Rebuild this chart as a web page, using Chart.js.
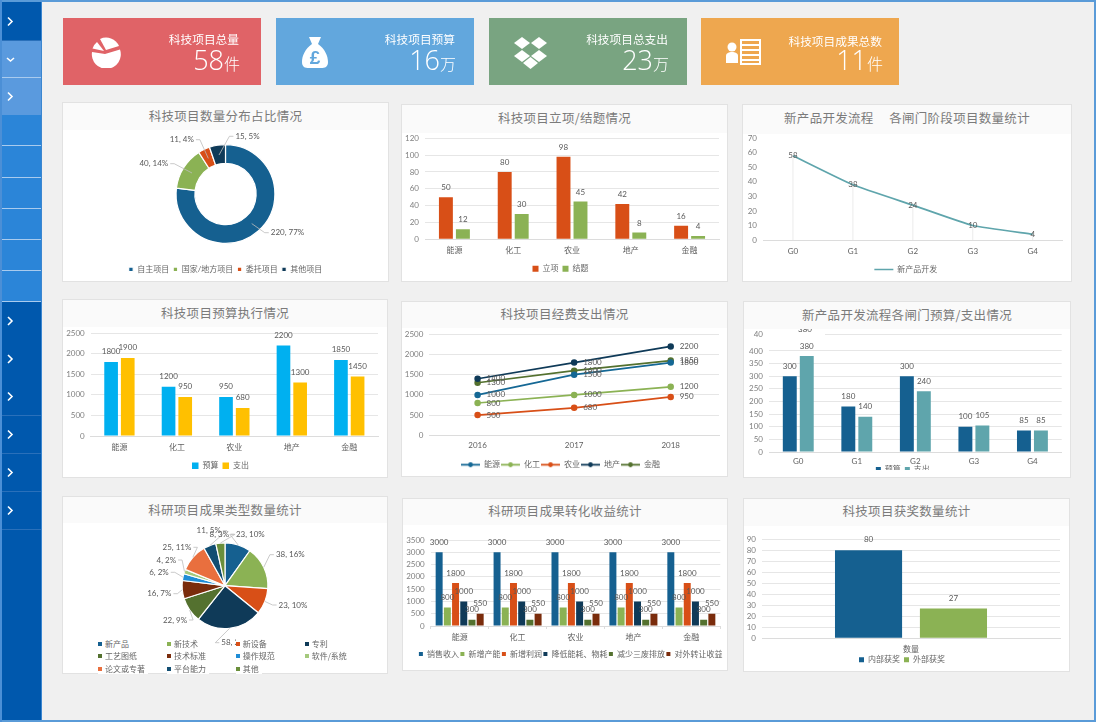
<!DOCTYPE html>
<html>
<head>
<meta charset="utf-8">
<title>科技项目统计</title>
<script src="https://cdn.jsdelivr.net/npm/chart.js@4/dist/chart.umd.js"></script>
<style>
html, body { margin: 0; padding: 0; background: #f0f0f0; overflow: hidden; }
#page { position: relative; width: 1096px; height: 722px; overflow: hidden; font-family: "Noto Sans CJK SC", sans-serif; filter: blur(0.3px); }
#page div, #page canvas, #page svg { position: absolute; }
.card { color: #fff; }
.card-title { font-size: 11.7px; text-align: right; line-height: 14px; white-space: nowrap; }
.card-num { text-align: right; white-space: nowrap; font-size: 27px; line-height: 32px; font-family: "Open Sans", sans-serif; font-weight: 300; }
.card-num span { font-size: 16px; font-family: "Noto Sans CJK SC", sans-serif; font-weight: 300; }
.panel { background: #fff; border: 1px solid #e2e2e2; box-sizing: border-box; }
.panel-head { background: #fafafa; left: 0; top: 0; right: 0; color: #7b7b7b; font-size: 12.5px; letter-spacing: .3px; text-align: center; white-space: pre; }
.legend-item { background: #fff; font-size: 8px; line-height: 11px; color: #666; white-space: nowrap; padding-left: 7px; padding-right: 3px; }
.legend-item i { position: absolute; left: 0; top: 4px; width: 4px; height: 4px; }
</style>
</head>
<body>
<div id="page"></div>
<script>
// 数量分布
const shareNames = ['自主项目', '国家/地方项目', '委托项目', '其他项目'];
const shareValues = [220, 40, 11, 15];
const sharePercents = [77, 14, 4, 5];
// 立项 / 结题
const fieldNames = ['能源', '化工', '农业', '地产', '金融'];
const setupValues = [50, 80, 98, 42, 16];
const closedValues = [12, 30, 45, 8, 4];
// 新产品开发
const stageNames = ['G0', 'G1', 'G2', 'G3', 'G4'];
const stageCounts = [58, 38, 24, 10, 4];
// 预算执行
const budgetValues = [1800, 1200, 950, 2200, 1850];
const spendValues = [1900, 950, 680, 1300, 1450];
// 经费支出
const years = ['2016', '2017', '2018'];
const energySpend = [1000, 1500, 1800];
const chemSpend = [800, 1000, 1200];
const farmSpend = [500, 680, 950];
const estateSpend = [1400, 1800, 2200];
const financeSpend = [1300, 1600, 1850];
// 各闸门预算 / 支出
const stageBudget = [300, 180, 300, 100, 85];
const stageSpend = [380, 140, 240, 105, 85];
const stageTicks = [0, 50, 100, 150, 200, 250, 300, 350, 400, 467];
// 成果类型
const resultNames = ['新产品', '新技术', '新设备', '专利', '工艺图纸', '技术标准', '操作规范', '软件/系统', '论文或专著', '平台能力', '其他'];
const resultValues = [23, 38, 23, 58, 22, 16, 6, 4, 25, 11, 8];
const resultPercents = [10, 16, 10, 25, 9, 7, 2, 2, 11, 5, 3];
// 成果转化收益 (bar heights and the printed labels differ in the source picture)
const incomeNames = ['销售收入', '新增产能', '新增利润', '降低能耗、物耗', '减少三废排放', '对外转让收益'];
const incomeHeights = [3000, 750, 1750, 1000, 250, 500];
const incomeLabels = [3000, 800, 1800, 1000, 300, 550];
// 获奖
const awardCategory = ['数量'];
const awardInner = [80];
const awardOuter = [27];

const BLUE = '#156090', GREEN = '#8bb254', ORANGE = '#d84f17', NAVY = '#0f3a58', OLIVE = '#54712f', BROWN = '#7a2c0c', TEAL = '#5fa5ac';
const FONT = 'Lato, "Noto Sans CJK SC", sans-serif';
const page = document.getElementById('page');

Chart.defaults.font.family = FONT;
Chart.defaults.font.size = 8;
Chart.defaults.color = '#808080';
Chart.defaults.animation = false;

function addDiv(x, y, w, h, css, parent) {
    var d = document.createElement('div');
    d.style.cssText = 'left:' + x + 'px;top:' + y + 'px;width:' + w + 'px;height:' + h + 'px;' + (css || '');
    (parent || page).appendChild(d);
    return d;
}

// outer frame and side menu
addDiv(0, 0, 1096, 2, 'background:#5a9bd8');
addDiv(0, 720, 1096, 2, 'background:#5a9bd8');
addDiv(0, 0, 2, 722, 'background:#4b8fd6');
addDiv(1094, 0, 2, 722, 'background:#5a9bd8');
addDiv(2, 2, 39, 718, 'background:#0058ad;border-right:1px solid #3b86d0');
var menuRows = [
    [3, 37, '#0058ad', 'right'], [41, 36, '#5a9ade', 'down'], [78, 37, '#5a9ade', 'right'],
    [115, 30, '#2b85d8'], [146, 31, '#2b85d8'], [178, 30, '#2b85d8'], [209, 30, '#2b85d8'], [240, 30, '#2b85d8'], [271, 30, '#2b85d8'],
    [302, 38, '#0058ad', 'right'], [340, 38, '#0058ad', 'right'], [378, 37, '#0058ad', 'right'],
    [416, 37, '#0058ad', 'right'], [454, 37, '#0058ad', 'right'], [492, 37, '#0058ad', 'right']
];
menuRows.forEach(function(r) {
    var row = addDiv(2, r[0], 39, r[1], 'background:' + r[2] + ';border-bottom:1px solid ' + (r[2] == '#0058ad' ? '#2a70ba' : '#a9cbee'));
    if (r[3]) {
        var pts = r[3] == 'right' ? '6,' + (r[1] / 2 - 4) + ' 10,' + (r[1] / 2) + ' 6,' + (r[1] / 2 + 4)
                                  : '5,' + (r[1] / 2 - 1) + ' 8.5,' + (r[1] / 2 + 2) + ' 12,' + (r[1] / 2 - 1);
        row.innerHTML = '<svg width="20" height="' + r[1] + '" style="left:0;top:0"><polyline points="' + pts + '" fill="none" stroke="#fff" stroke-width="1.6"/></svg>';
    }
});

// top cards
var cards = [
    { x: 63, color: '#e06367', title: '科技项目总量', num: '58', unit: '件', right: 22, titleTop: 32,
      icon: '<svg width="30" height="31" style="left:28px;top:19px" fill="#fff"><path d="M14 17 L29 12.5 A14.5 14.5 0 1 1 1 15 Z"/><path d="M13 14 L1.5 11.5 A14 14 0 0 1 6 5 Z"/><path d="M15 13 L9 2 A14 14 0 0 1 28 9 Z"/></svg>' },
    { x: 276, color: '#62a7dd', title: '科技项目预算', num: '16', unit: '万', right: 19, titleTop: 32,
      icon: '<svg width="28" height="33" style="left:25px;top:18px"><path fill="#fff" d="M8 1 L20 1 L17 8 C24 13 27 20 27 26 C27 31 24 32 20 32 L8 32 C4 32 1 31 1 26 C1 20 4 13 11 8 Z"/><text x="14" y="28" text-anchor="middle" font-size="19" font-weight="700" font-family="Liberation Sans" fill="#62a7dd">£</text></svg>' },
    { x: 489, color: '#79a481', title: '科技项目总支出', num: '23', unit: '万', right: 19, titleTop: 32,
      icon: '<svg width="36" height="34" style="left:24px;top:19px" fill="#fff"><polygon points="9,0 17,6 9,12 1,6"/><polygon points="26,0 34,6 26,12 18,6"/><polygon points="9,13 17,19 9,25 1,19"/><polygon points="26,13 34,19 26,25 18,19"/><polygon points="17.5,20 25,26 17.5,32 10,26"/></svg>' },
    { x: 701, color: '#eea74f', title: '科技项目成果总数', num: '11', unit: '件', right: 17, titleTop: 34,
      icon: '<svg width="36" height="27" style="left:25px;top:21px" fill="#fff"><circle cx="6" cy="8" r="4.5"/><path d="M0 24 L0 17 C0 14 3 13 6 13 C9 13 12 14 12 17 L12 24 Z"/><path fill-rule="evenodd" d="M14 0 L35 0 L35 26 L14 26 Z M16 2 L16 5 L33 5 L33 2 Z M16 7 L16 10 L33 10 L33 7 Z M16 12 L16 15 L33 15 L33 12 Z M16 17 L16 20 L33 20 L33 17 Z M16 22 L16 24 L33 24 L33 22 Z"/></svg>' }
];
cards.forEach(function(c) {
    var card = addDiv(c.x, 18, 198, 67, 'background:' + c.color, page);
    card.className = 'card';
    card.innerHTML = c.icon;
    var t = addDiv(0, c.titleTop - 18, 198 - c.right, 14, '', card);
    t.className = 'card-title';
    t.textContent = c.title;
    var n = addDiv(0, 26, 198 - c.right + 1, 32, '', card);
    n.className = 'card-num';
    n.innerHTML = c.num + '<span>' + c.unit + '</span>';
});

// chart panels: x, y, right, bottom, bottom of the title band, title centre (page pixels)
var panels = {
    share:   { title: '科技项目数量分布占比情况', x: 62,  y: 102, r: 389,  b: 282, head: 130, titleY: 116.7 },
    setup:   { title: '科技项目立项/结题情况', x: 401, y: 104, r: 728,  b: 282, head: 133, titleY: 118 },
    stage:   { title: '新产品开发流程     各闸门阶段项目数量统计', x: 742, y: 104, r: 1072, b: 282, head: 134, titleY: 118.3 },
    budget:  { title: '科技项目预算执行情况', x: 62,  y: 299, r: 388,  b: 478, head: 327, titleY: 313.3 },
    spend:   { title: '科技项目经费支出情况', x: 401, y: 301, r: 728,  b: 477, head: 328, titleY: 314.3 },
    gate:    { title: '新产品开发流程各闸门预算/支出情况', x: 743, y: 301, r: 1071, b: 478, head: 329, titleY: 315 },
    result:  { title: '科研项目成果类型数量统计', x: 62,  y: 496, r: 388,  b: 674, head: 523, titleY: 510 },
    income:  { title: '科研项目成果转化收益统计', x: 402, y: 498, r: 728,  b: 671, head: 525, titleY: 511.3 },
    award:   { title: '科技项目获奖数量统计', x: 743, y: 498, r: 1070, b: 672, head: 526, titleY: 511 }
};
// canvases run a bit past the white body, otherwise chart.js pushes the plot in for the edge tick labels
Object.keys(panels).forEach(function(id) {
    var p = panels[id];
    p.canvasTop = p.head - 10;
    p.canvasH = p.b + 12 - p.canvasTop;
    var el = addDiv(p.x, p.y, p.r - p.x, p.b - p.y);
    el.className = 'panel';
    var h = addDiv(0, 0, p.r - p.x - 2, p.head - p.y - 1, 'line-height:' + (2 * (p.titleY - p.y - 1.5)) + 'px', el);
    h.className = 'panel-head';
    h.textContent = p.title;
    var c = document.createElement('canvas');
    c.id = id;
    c.width = p.r - p.x - 2;
    c.height = p.canvasH;
    c.style.left = (p.x + 1) + 'px';
    c.style.top = p.canvasTop + 'px';
    page.appendChild(c);
});

// value labels over bars / beside line points
Chart.register({
    id: 'valueLabels',
    afterDatasetsDraw: function(chart, args, opts) {
        if (!opts.place) return;
        var ctx = chart.ctx;
        ctx.save();
        ctx.font = (opts.size || 8) + 'px ' + FONT;
        ctx.fillStyle = opts.color || '#595959';
        ctx.textBaseline = 'middle';
        chart.data.datasets.forEach(function(ds, i) {
            chart.getDatasetMeta(i).data.forEach(function(pt, j) {
                var text = ds.printed ? ds.printed[j] : ds.data[j];
                if (opts.place == 'right') {
                    ctx.textAlign = 'left';
                    ctx.fillText(text, pt.x + 9, pt.y);
                } else if (opts.place == 'center') {
                    ctx.textAlign = 'center';
                    ctx.fillText(text, pt.x, pt.y);
                } else {
                    ctx.textAlign = 'center';
                    ctx.fillText(text, pt.x, pt.y - (opts.lift || 10.5));
                }
            });
        });
        ctx.restore();
    }
});

// "value, percent" labels with leader lines round a pie
Chart.register({
    id: 'sliceLabels',
    afterDatasetsDraw: function(chart, args, opts) {
        if (!opts.spots) return;
        var ctx = chart.ctx, ds = chart.data.datasets[0];
        ctx.save();
        ctx.font = '8px ' + FONT;
        ctx.textBaseline = 'middle';
        chart.getDatasetMeta(0).data.forEach(function(arc, i) {
            var mid = (arc.startAngle + arc.endAngle) / 2;
            var text = ds.data[i] + ', ' + opts.percents[i] + '%';
            var half = ctx.measureText(text).width / 2;
            var lx = arc.x + opts.spots[i][0], ly = arc.y + opts.spots[i][1];
            var ax = arc.x + Math.cos(mid) * arc.outerRadius * opts.anchor;
            var ay = arc.y + Math.sin(mid) * arc.outerRadius * opts.anchor;
            var edge = lx > ax ? lx - half - 2 : lx + half + 2;
            if (Math.hypot(edge - ax, ly - ay) > 9) {
                ctx.strokeStyle = '#bdbdbd';
                ctx.lineWidth = 0.8;
                ctx.beginPath();
                ctx.moveTo(ax, ay);
                ctx.lineTo(edge + (lx > ax ? -4 : 4), ly);
                ctx.lineTo(edge, ly);
                ctx.stroke();
            }
            ctx.fillStyle = '#595959';
            ctx.textAlign = 'center';
            ctx.fillText(text, lx, ly);
        });
        ctx.restore();
    }
});

// thin lines from the points down to the axis
Chart.register({
    id: 'dropLines',
    beforeDatasetsDraw: function(chart, args, opts) {
        if (!opts.color) return;
        var ctx = chart.ctx;
        ctx.save();
        ctx.strokeStyle = opts.color;
        ctx.beginPath();
        chart.getDatasetMeta(0).data.forEach(function(pt) {
            ctx.moveTo(pt.x, pt.y);
            ctx.lineTo(pt.x, chart.chartArea.bottom);
        });
        ctx.stroke();
        ctx.restore();
    }
});

// put the legend row at a fixed height, the auto layout leaves it too low
Chart.register({
    id: 'pinLegend',
    afterLayout: function(chart, args, opts) {
        if (opts.y !== undefined && chart.legend) {
            var l = chart.options.plugins.legend.labels;
            chart.legend.top = opts.y - l.padding - (l.font.size / 2);
            chart.legend.bottom = chart.legend.top + chart.legend.height;
            chart.legend.left += opts.dx || 0;
            chart.legend.right += opts.dx || 0;
        }
    }
});

function legendOptions(size, padding, extra) {
    return { position: 'bottom', labels: Object.assign({ boxWidth: size, boxHeight: size, padding: padding, font: { size: 8 }, color: '#666' }, extra || {}) };
}

function plainNumber(v) {
    return v;
}

// plot = left, top, right, bottom of the plot in page pixels
function cartesian(id, plot, yOpts, xOpts, legend, legendY, labelOpts, extraPlugins, legendDx) {
    var p = panels[id], left = p.x + 1, top = p.canvasTop, w = p.r - p.x - 2;
    var legendH = 8 + legend.labels.padding + 10;
    var xHeight = p.canvasH - legendH - (plot.bottom - top);
    var plugins = Object.assign({
        legend: legend,
        tooltip: { enabled: false },
        valueLabels: labelOpts,
        pinLegend: { y: legendY - top, dx: legendDx }
    }, extraPlugins || {});
    return {
        responsive: false,
        layout: { padding: { left: 0, top: plot.top - top, right: left + w - plot.right, bottom: 0 } },
        plugins: plugins,
        scales: {
            y: Object.assign({
                grid: { color: '#e6e6e6', drawTicks: false },
                border: { display: false },
                afterFit: function(s) { s.width = plot.left - left; }
            }, yOpts),
            x: Object.assign({
                grid: { display: false, drawTicks: false },
                border: { color: '#dcdcdc' },
                afterFit: function(s) { s.height = xHeight; }
            }, xOpts)
        }
    };
}

function yTicks(step) {
    return { stepSize: step, padding: 6, color: '#808080', autoSkip: false, callback: plainNumber };
}

function xTicks(padding) {
    return { padding: padding, color: '#5f5f5f', maxRotation: 0, autoSkip: false };
}

function pieLayout(id, cy, radius, legendH) {
    var p = panels[id];
    return { padding: { top: cy - radius - p.canvasTop, bottom: p.canvasH - legendH - (cy + radius - p.canvasTop) } };
}

// 1. share of projects
new Chart(document.getElementById('share'), {
    type: 'doughnut',
    data: {
        labels: shareNames,
        datasets: [{ data: shareValues, backgroundColor: [BLUE, GREEN, ORANGE, NAVY], borderColor: '#fff', borderWidth: 1.2 }]
    },
    options: {
        responsive: false,
        cutout: '62%',
        layout: pieLayout('share', 194, 50, 22),
        plugins: {
            legend: legendOptions(4.5, 4),
            tooltip: { enabled: false },
            pinLegend: { y: 269.3 - panels.share.canvasTop },
            sliceLabels: { percents: sharePercents, anchor: 0.8, spots: [[62, 38.7], [-71.7, -30.3], [-43.7, -54.3], [22, -57.7]] }
        }
    }
});

// 2. projects set up / closed
new Chart(document.getElementById('setup'), {
    type: 'bar',
    data: {
        labels: fieldNames,
        datasets: [
            { label: '立项', data: setupValues, backgroundColor: ORANGE, categoryPercentage: 0.578, barPercentage: 0.82 },
            { label: '结题', data: closedValues, backgroundColor: GREEN, categoryPercentage: 0.578, barPercentage: 0.82 }
        ]
    },
    options: cartesian('setup', { left: 425, top: 138.3, right: 719, bottom: 239.3 },
        { min: 0, max: 120, ticks: yTicks(20) }, { ticks: xTicks(6) },
        legendOptions(6, 4), 268.7, { place: 'top', lift: 9.5 })
});

// 3. new product stages
new Chart(document.getElementById('stage'), {
    type: 'line',
    data: {
        labels: stageNames,
        datasets: [{ label: '新产品开发', data: stageCounts, borderColor: TEAL, backgroundColor: TEAL, borderWidth: 1.7, pointRadius: 0, tension: 0.15 }]
    },
    options: cartesian('stage', { left: 763, top: 138.3, right: 1062.7, bottom: 240 },
        { min: 0, max: 70, grid: { display: false, drawTicks: false }, ticks: yTicks(10) },
        { offset: true, ticks: xTicks(7) },
        legendOptions(19, 4, { usePointStyle: true, pointStyle: 'line', pointStyleWidth: 19 }), 269.5,
        { place: 'center' }, { dropLines: { color: '#ebebeb' } }, 3)
});

// 4. budget execution
new Chart(document.getElementById('budget'), {
    type: 'bar',
    data: {
        labels: fieldNames,
        datasets: [
            { label: '预算', data: budgetValues, backgroundColor: '#00b0f0', categoryPercentage: 0.58, barPercentage: 0.82 },
            { label: '支出', data: spendValues, backgroundColor: '#ffc000', categoryPercentage: 0.58, barPercentage: 0.82 }
        ]
    },
    options: cartesian('budget', { left: 90.7, top: 333.3, right: 378, bottom: 436 },
        { min: 0, max: 2500, ticks: yTicks(500) }, { ticks: xTicks(7) },
        legendOptions(6.5, 4), 465.7, { place: 'top', lift: 10.5 })
});

// 5. spending by year, legend marks are a short line with a dot
function lineMark(color) {
    var c = document.createElement('canvas');
    c.width = 19;
    c.height = 7;
    var g = c.getContext('2d');
    g.fillStyle = color;
    g.fillRect(0, 2.6, 19, 1.8);
    g.beginPath();
    g.arc(9.5, 3.5, 2.4, 0, Math.PI * 2);
    g.fill();
    return c;
}
var spendLegend = legendOptions(19, 1, {
    usePointStyle: true,
    pointStyleWidth: 19,
    generateLabels: function(chart) {
        return Chart.defaults.plugins.legend.labels.generateLabels(chart).map(function(item) {
            item.pointStyle = lineMark(chart.data.datasets[item.datasetIndex].borderColor);
            return item;
        });
    }
});
function spendSeries(label, values, color) {
    return { label: label, data: values, borderColor: color, backgroundColor: color, borderWidth: 1.7, pointRadius: 2.4, tension: 0 };
}
new Chart(document.getElementById('spend'), {
    type: 'line',
    data: {
        labels: years,
        datasets: [
            spendSeries(fieldNames[0], energySpend, '#156895'),
            spendSeries(fieldNames[1], chemSpend, GREEN),
            spendSeries(fieldNames[2], farmSpend, ORANGE),
            spendSeries(fieldNames[3], estateSpend, NAVY),
            spendSeries(fieldNames[4], financeSpend, OLIVE)
        ]
    },
    options: cartesian('spend', { left: 429.3, top: 334.3, right: 719, bottom: 435.3 },
        { min: 0, max: 2500, ticks: yTicks(500) },
        { offset: true, ticks: xTicks(5) },
        spendLegend, 464.7, { place: 'right' })
});

// 6. stage budget / spending, the top of this chart and its legend are cut off in the source
var gateTicks = yTicks(50);
gateTicks.callback = function(v) { return v == 467 ? '40' : v; };
new Chart(document.getElementById('gate'), {
    type: 'bar',
    data: {
        labels: stageNames,
        datasets: [
            { label: '预算', data: stageBudget, backgroundColor: BLUE, categoryPercentage: 0.58, barPercentage: 0.82 },
            { label: '支出', data: stageSpend, backgroundColor: TEAL, categoryPercentage: 0.58, barPercentage: 0.82 }
        ]
    },
    options: cartesian('gate', { left: 769, top: 334, right: 1061.7, bottom: 452 },
        {
            min: 0, max: 467,
            afterBuildTicks: function(s) { s.ticks = stageTicks.map(function(v) { return { value: v }; }); },
            ticks: gateTicks
        },
        { ticks: xTicks(5) }, legendOptions(5, 4), 469.5, { place: 'top', lift: 10 })
});
addDiv(765, 331, 60, 6, 'background:#fff');
addDiv(744, 470, 326, 7, 'background:#fff');
var ghost = addDiv(796, 329, 18, 3, 'overflow:hidden;font:8px ' + FONT + ';color:#595959;text-align:center;line-height:0');
ghost.textContent = stageSpend[0];

// 7. result types, legend is html so it can sit in a fixed grid over the "58" label
new Chart(document.getElementById('result'), {
    type: 'pie',
    data: {
        labels: resultNames,
        datasets: [{ data: resultValues, backgroundColor: [BLUE, GREEN, ORANGE, NAVY, OLIVE, BROWN, '#1f8dd6', '#a5c97d', '#e96f3e', '#124e72', '#6a8f3b'], borderColor: '#fff', borderWidth: 1.2 }]
    },
    options: {
        responsive: false,
        layout: pieLayout('result', 585.7, 43.5, 0),
        plugins: {
            legend: { display: false },
            tooltip: { enabled: false },
            sliceLabels: {
                percents: resultPercents, anchor: 1,
                spots: [[25.3, -51.4], [65.3, -31], [68, 19.3], [10.7, 57], [-50, 34.3], [-65.7, 8], [-66, -13.4], [-58.7, -25.7], [-48, -38.4], [-16.3, -55], [-5.7, -51.4]]
            }
        }
    }
});
resultNames.forEach(function(name, i) {
    var colX = [98, 167, 235.7, 304.7], rowY = [637.5, 650, 662.5];
    var colors = [BLUE, GREEN, ORANGE, NAVY, OLIVE, BROWN, '#1f8dd6', '#a5c97d', '#e96f3e', '#124e72', '#6a8f3b'];
    var item = addDiv(colX[i % 4], rowY[Math.floor(i / 4)], 'auto', 11);
    item.style.width = 'auto';
    item.className = 'legend-item';
    item.innerHTML = '<i style="background:' + colors[i] + '"></i>' + name;
});

// 8. income from results
function incomeSeries(i, color) {
    return {
        label: incomeNames[i],
        data: fieldNames.map(function() { return incomeHeights[i]; }),
        printed: fieldNames.map(function() { return incomeLabels[i]; }),
        backgroundColor: color, categoryPercentage: 0.85, barPercentage: 0.85
    };
}
new Chart(document.getElementById('income'), {
    type: 'bar',
    data: {
        labels: fieldNames,
        datasets: [incomeSeries(0, BLUE), incomeSeries(1, GREEN), incomeSeries(2, ORANGE), incomeSeries(3, NAVY), incomeSeries(4, OLIVE), incomeSeries(5, BROWN)]
    },
    options: cartesian('income', { left: 430.7, top: 540, right: 720.3, bottom: 626 },
        { min: 0, max: 3500, ticks: yTicks(500) },
        { grid: { display: true, drawOnChartArea: false, drawTicks: true, color: '#dcdcdc', tickLength: 3 }, ticks: xTicks(3.5) },
        legendOptions(4, 1.5), 654, { place: 'top', lift: 10 }, {}, 9)
});

// 9. awards
new Chart(document.getElementById('award'), {
    type: 'bar',
    data: {
        labels: awardCategory,
        datasets: [
            { label: '内部获奖', data: awardInner, backgroundColor: BLUE, categoryPercentage: 0.57, barPercentage: 0.79 },
            { label: '外部获奖', data: awardOuter, backgroundColor: GREEN, categoryPercentage: 0.57, barPercentage: 0.79 }
        ]
    },
    options: cartesian('award', { left: 762, top: 539.3, right: 1060, bottom: 638.3 },
        { min: 0, max: 90, ticks: yTicks(10) }, { ticks: xTicks(6) },
        legendOptions(5, 4), 659.7, { place: 'top', lift: 10.5 })
});
</script>
</body>
</html>
